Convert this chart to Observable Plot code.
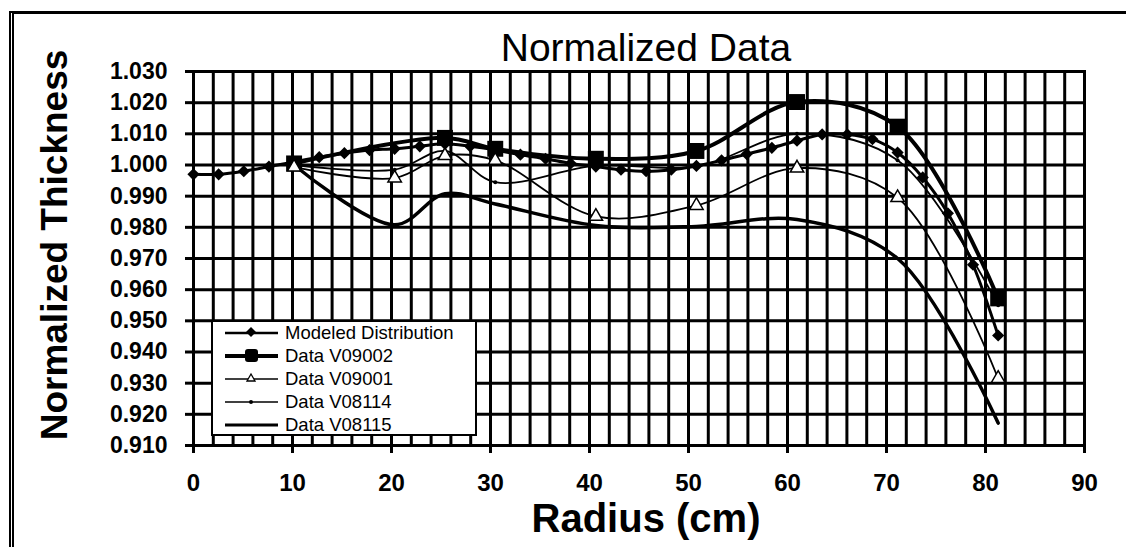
<!DOCTYPE html>
<html>
<head>
<meta charset="utf-8">
<script src="https://cdn.jsdelivr.net/npm/d3@7"></script>
<script src="https://cdn.jsdelivr.net/npm/@observablehq/plot@0.6"></script>
<style>
  body { margin: 0; background: #fff; }
  #wrap { position: relative; width: 1126px; height: 547px; overflow: hidden; font-family: "Liberation Sans", Arial, sans-serif; color: #000; }
  #chart { position: absolute; left: 0; top: 0; }
  #outer { position: absolute; left: 9px; top: 11px; width: 1300px; height: 700px; border-top: 3px solid #000; border-left: 5px double #000; pointer-events: none; }
  #title { position: absolute; left: 0; width: 1292px; top: 25px; text-align: center; font-size: 39px; line-height: 46px; white-space: nowrap; }
  #ylabel { position: absolute; left: 55px; top: 245px; transform: translate(-50%, -50%) rotate(-90deg); font-size: 37px; font-weight: bold; white-space: nowrap; line-height: 40px; }
  #xlabel { position: absolute; left: 0; width: 1292px; top: 496px; text-align: center; font-size: 40px; font-weight: bold; line-height: 44px; white-space: nowrap; }
  #legend { position: absolute; left: 211px; top: 320px; width: 262px; height: 112px; background: #fff; border: 2px solid #000; }
  .row { position: absolute; left: 0; height: 22px; width: 262px; }
  .row svg { position: absolute; left: 12px; top: 0; }
  .row span { position: absolute; left: 72px; top: 0; font-size: 18.5px; line-height: 22px; white-space: nowrap; }
</style>
</head>
<body>
<div id="wrap">
  <div id="chart"></div>
  <div id="outer"></div>
  <div id="title">Normalized Data</div>
  <div id="ylabel">Normalized Thickness</div>
  <div id="xlabel">Radius (cm)</div>
  <div id="legend"></div>
</div>
<script>
// ---- Data ----
const radiusModel = [0, 2.54, 5.08, 7.62, 10.16, 12.7, 15.24, 17.78, 20.32, 22.86, 25.4, 27.94, 30.48, 33.02, 35.56, 38.1,
  40.64, 43.18, 45.72, 48.26, 50.8, 53.34, 55.88, 58.42, 60.96, 63.5, 66.04, 68.58, 71.12, 73.66, 76.2, 78.74, 81.28];
const modeledValues = [0.997, 0.997, 0.998, 0.9995, 1.001, 1.0025, 1.0038, 1.0048, 1.0052, 1.006, 1.0068, 1.006, 1.0048, 1.0033, 1.002, 1.0005,
  0.9995, 0.9985, 0.998, 0.9985, 0.9997, 1.0015, 1.0035, 1.0055, 1.0078, 1.0098, 1.0098, 1.0083, 1.004, 0.996, 0.9845, 0.968, 0.9453];

const radiusV09002 = [10.16, 25.4, 30.48, 40.64, 50.8, 60.96, 71.12, 81.28];
const valuesV09002 = [1.0005, 1.0087, 1.0052, 1.002, 1.0045, 1.0202, 1.0123, 0.9572];

const radiusData = [10.16, 20.32, 25.4, 30.48, 40.64, 50.8, 60.96, 71.12, 81.28];
const valuesV09001 = [0.9993, 0.9958, 1.003, 1.0015, 0.9835, 0.987, 0.999, 0.9895, 0.9315];
const valuesV08114 = [1.000, 0.9985, 1.0045, 0.9945, 0.9998, 0.9995, 1.0100, 1.0015, 0.9550];
const valuesV08115 = [1.000, 0.9808, 0.9908, 0.9875, 0.9806, 0.9803, 0.9825, 0.9700, 0.9172];

const seriesNames = ["Modeled Distribution", "Data V09002", "Data V09001", "Data V08114", "Data V08115"];
const xTickValues = [0, 10, 20, 30, 40, 50, 60, 70, 80, 90];
const yTickValues = [0.91, 0.92, 0.93, 0.94, 0.95, 0.96, 0.97, 0.98, 0.99, 1.00, 1.01, 1.02, 1.03];
const xGridValues = d3.range(0, 91, 2);

// ---- Build tables ----
const modeled = radiusModel.map((r, i) => ({r, v: modeledValues[i]}));
const d09002 = radiusV09002.map((r, i) => ({r, v: valuesV09002[i]}));
const d09001 = radiusData.map((r, i) => ({r, v: valuesV09001[i]}));
const d08114 = radiusData.map((r, i) => ({r, v: valuesV08114[i]}));
const d08115 = radiusData.map((r, i) => ({r, v: valuesV08115[i]}));

const curve = "catmull-rom";
const font = "'Liberation Sans', Arial, sans-serif";

const chart = Plot.plot({
  width: 1126,
  height: 547,
  marginLeft: 193,
  marginRight: 42,
  marginTop: 71,
  marginBottom: 102,
  x: {domain: [0, 90]},
  y: {domain: [0.91, 1.03]},
  style: {fontFamily: font, background: "transparent", color: "#000"},
  marks: [
    Plot.gridX(xGridValues, {stroke: "#000", strokeOpacity: 1, strokeWidth: 3}),
    Plot.gridY(yTickValues, {stroke: "#000", strokeOpacity: 1, strokeWidth: 3}),
    Plot.frame({stroke: "#000", strokeWidth: 3}),
    Plot.axisX(xTickValues, {tickSize: 8, tickPadding: 20, strokeWidth: 3, fontSize: 24, fontWeight: "bold", tickFormat: d => String(d), label: null}),
    Plot.axisY(yTickValues, {tickSize: 8, tickPadding: 18, strokeWidth: 3, fontSize: 23, fontWeight: "bold", tickFormat: d3.format(".3f"), label: null}),
    // lines
    Plot.line(d08115, {x: "r", y: "v", curve, stroke: "#000", strokeWidth: 3.5}),
    Plot.line(d08114, {x: "r", y: "v", curve, stroke: "#000", strokeWidth: 1.8}),
    Plot.line(d09001, {x: "r", y: "v", curve, stroke: "#000", strokeWidth: 1.8}),
    Plot.line(modeled, {x: "r", y: "v", curve, stroke: "#000", strokeWidth: 3}),
    Plot.line(d09002, {x: "r", y: "v", curve, stroke: "#000", strokeWidth: 4}),
    // markers
    Plot.dot(d08114, {x: "r", y: "v", r: 2, fill: "#000"}),
    Plot.dot(modeled, {x: "r", y: "v", symbol: "diamond2", r: 5.5, fill: "#000"}),
    Plot.dot(d09002, {x: "r", y: "v", symbol: "square", r: 9, fill: "#000"}),
    Plot.dot(d09001, {x: "r", y: "v", symbol: "triangle", r: 5, fill: "#fff", stroke: "#000", strokeWidth: 1.5})
  ]
});
document.getElementById("chart").appendChild(chart);

// ---- Legend ----
const legendStyles = [
  {w: 2.5, sym: "diamond"},
  {w: 4, sym: "square"},
  {w: 1.5, sym: "triangle"},
  {w: 1.5, sym: "dot"},
  {w: 3, sym: null}
];
const legend = document.getElementById("legend");
seriesNames.forEach((name, i) => {
  const row = document.createElement("div");
  row.className = "row";
  row.style.top = (i * 23) + "px";
  const st = legendStyles[i];
  let marker = "";
  if (st.sym === "diamond") marker = '<path d="M26,5 L31,10 L26,15 L21,10 Z" fill="#000"/>';
  if (st.sym === "square") marker = '<rect x="20" y="4" width="13" height="13" rx="3" fill="#000"/>';
  if (st.sym === "triangle") marker = '<path d="M26,6 L30,13 L22,13 Z" fill="#fff" stroke="#000" stroke-width="1.3"/>';
  if (st.sym === "dot") marker = '<circle cx="26" cy="11" r="2" fill="#000"/>';
  row.innerHTML = '<svg width="56" height="22"><line x1="0" x2="53" y1="11" y2="11" stroke="#000" stroke-width="' + st.w + '"/>' + marker + '</svg><span>' + name + '</span>';
  legend.appendChild(row);
});
</script>
</body>
</html>
